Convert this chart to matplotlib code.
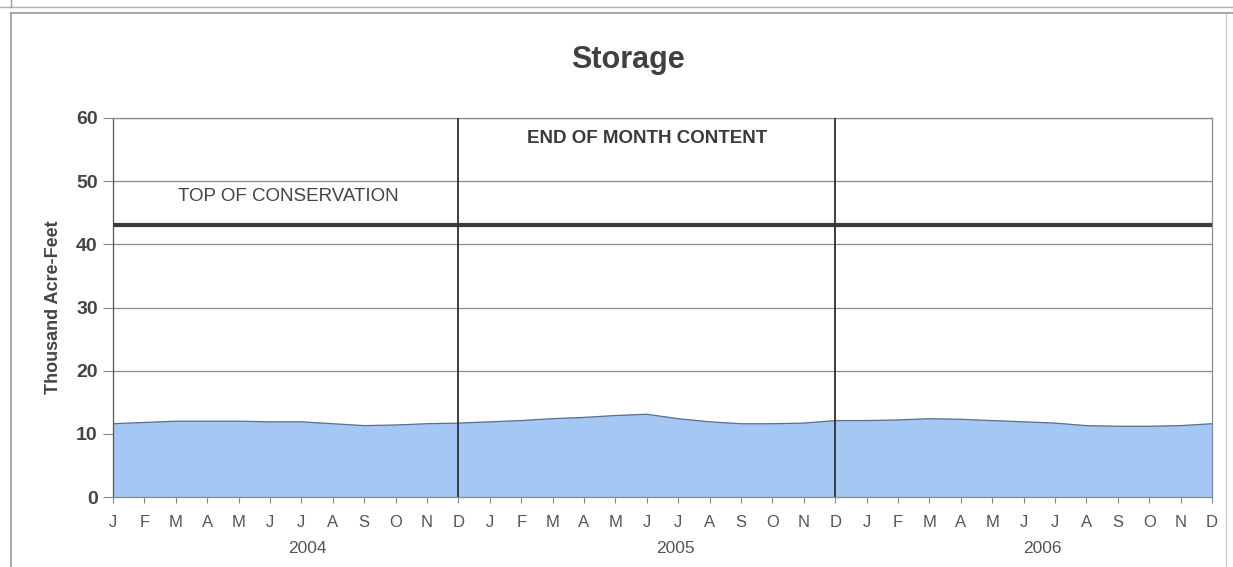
import matplotlib.pyplot as plt
from matplotlib.lines import Line2D

# end of month storage, thousand acre-feet, Jan 2004 .. Dec 2006
months = ["J", "F", "M", "A", "M", "J", "J", "A", "S", "O", "N", "D"] * 3
years = ["2004", "2005", "2006"]
storage_2004 = [11.6, 11.8, 12.0, 12.0, 12.0, 11.9, 11.9, 11.6, 11.3, 11.4, 11.6, 11.7]
storage_2005 = [11.9, 12.1, 12.4, 12.6, 12.9, 13.1, 12.4, 11.9, 11.6, 11.6, 11.7, 12.1]
storage_2006 = [12.1, 12.2, 12.4, 12.3, 12.1, 11.9, 11.7, 11.3, 11.2, 11.2, 11.3, 11.6]
top_of_conservation = 43.0

storage = storage_2004 + storage_2005 + storage_2006
x = list(range(len(storage)))

fig = plt.figure(figsize=(12.33, 5.67), dpi=100)
plt.rcParams['font.family'] = ['Liberation Sans', 'DejaVu Sans']
ax = fig.add_axes([113 / 1233, 1 - 497 / 567, (1212 - 113) / 1233, (497 - 118) / 567])

ax.fill_between(x, storage, 0, color='#a5c7f4', zorder=2)
ax.plot(x, storage, color='#5b6f8c', lw=0.9, zorder=3)
ax.axhline(top_of_conservation, color='#3c3c3c', lw=3.0, zorder=4)
for xv in (11, 23):
    ax.axvline(xv, color='#2f2f2f', lw=1.3, zorder=5)

ax.set_xlim(0, 35)
ax.set_ylim(0, 60)
ax.set_yticks(range(0, 61, 10))
ax.yaxis.grid(True, color='#8a8a8a', lw=0.9, zorder=1)
ax.set_xticks(x)
ax.set_xticklabels(months, color='#555555', fontsize=12)
ax.tick_params(axis='x', length=4, color='#888888', pad=9)
ax.tick_params(axis='y', length=7, color='#888888', labelsize=14, labelcolor='#444444', pad=4)
for lab in ax.get_yticklabels():
    lab.set_fontweight('bold')
for s in ax.spines.values():
    s.set_color('#8a8a8a')
    s.set_linewidth(0.9)
ax.spines['left'].set_color('#555555')

for yr, xpos in zip(years, [6.2, 17.9, 29.6]):
    ax.text(xpos, -0.135, yr, transform=ax.get_xaxis_transform(), ha='center', va='center',
            fontsize=12.5, color='#555555')

ax.set_ylabel("Thousand Acre-Feet", fontsize=13, fontweight='bold', color='#444444', labelpad=10)
ax.text(5.57, 47.6, "TOP OF CONSERVATION", ha='center', va='center', fontsize=13.5, color='#444444')
ax.text(17.0, 56.8, "END OF MONTH CONTENT", ha='center', va='center', fontsize=13.5,
        fontweight='bold', color='#3a3a3a')

fig.text(628 / 1233, 1 - 60 / 567, "Storage", ha='center', va='center', fontsize=22,
         fontweight='bold', color='#404040')

# panel frame lines
fc = '#9a9a9a'
fig.add_artist(Line2D([11 / 1233, 11 / 1233], [0, 1 - 13 / 567], color=fc, lw=1.2, transform=fig.transFigure))
fig.add_artist(Line2D([1226 / 1233, 1226 / 1233], [0, 1 - 13 / 567], color='#cccccc', lw=1.0, transform=fig.transFigure))
fig.add_artist(Line2D([11 / 1233, 1], [1 - 13 / 567, 1 - 13 / 567], color=fc, lw=1.2, transform=fig.transFigure))
fig.add_artist(Line2D([0, 1], [1 - 7 / 567, 1 - 7 / 567], color='#b0b0b0', lw=1.0, transform=fig.transFigure))
fig.add_artist(Line2D([11 / 1233, 11 / 1233], [1 - 7 / 567, 1], color=fc, lw=1.0, transform=fig.transFigure))

fig.savefig("out.png", dpi=100)
